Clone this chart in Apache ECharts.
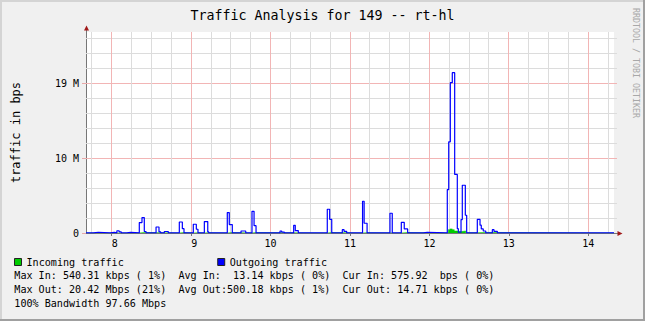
<!DOCTYPE html>
<html><head><meta charset="utf-8">
<script src="https://cdn.jsdelivr.net/npm/echarts@6/dist/echarts.min.js"></script>
<style>html,body{margin:0;padding:0;background:#F0F0F0}#c{width:645px;height:321px}#c text{white-space:pre}</style>
</head><body><div id="c"></div>
<script>
const titleText = 'Traffic Analysis for 149 -- rt-hl';
const yAxisTitle = 'traffic in bps';
const watermark = 'RRDTOOL / TOBI OETIKER';
const hourTicks = [8, 9, 10, 11, 12, 13, 14];
const hourLabels = [' 8', ' 9', '10', '11', '12', '13', '14'];
const quarterTicks = [7.75, 8.25, 8.5, 8.75, 9.25, 9.5, 9.75, 10.25, 10.5, 10.75, 11.25, 11.5, 11.75, 12.25, 12.5, 12.75, 13.25, 13.5, 13.75, 14.25];
const yMajorGrid = [10000000, 20000000];
const yMinorGrid = [2000000, 4000000, 6000000, 8000000, 12000000, 14000000, 16000000, 18000000, 22000000, 24000000, 26000000];
const yTickValues = [0, 10000000, 20000000];
const yTickLabels = ['0', '10 M', '19 M'];
const legendNames = ['Incoming traffic', 'Outgoing traffic'];
const statLines = [
  'Max In: 540.31 kbps ( 1%)  Avg In:  13.14 kbps ( 0%)  Cur In: 575.92  bps ( 0%)',
  'Max Out: 20.42 Mbps (21%)  Avg Out:500.18 kbps ( 1%)  Cur Out: 14.71 kbps ( 0%)',
  '100% Bandwidth 97.66 Mbps'
];

// Outgoing traffic: segment start time (hours) and value (bps)
const outTimes = [7.676, 7.768, 7.831, 7.979, 8.033, 8.065, 8.093, 8.12, 8.189, 8.239,
  8.347, 8.381, 8.41, 8.432, 8.558, 8.595, 8.617, 8.662, 8.712,
  8.851, 8.889, 8.91, 9.027, 9.065, 9.086, 9.166, 9.209, 9.221,
  9.455, 9.48, 9.518, 9.628, 9.687, 9.766, 9.792, 9.817,
  10.119, 10.14, 10.173, 10.291, 10.311, 10.349, 10.714, 10.744, 10.77,
  10.903, 10.925, 10.958, 11.158, 11.178, 11.215, 11.503, 11.532,
  11.646, 11.683, 11.726, 11.923, 11.973,
  12.225, 12.243, 12.263, 12.288, 12.318, 12.351, 12.364, 12.398, 12.414, 12.452, 12.469,
  12.603, 12.637, 12.653, 12.678, 12.709, 12.792, 12.813, 12.855, 14.324];
const outBps = [15000, 100000, 15000, 80000, 15000, 300000, 140000, 15000, 80000, 15000,
  1390000, 2060000, 200000, 15000, 800000, 150000, 15000, 200000, 15000,
  1470000, 580000, 15000, 1170000, 500000, 15000, 1520000, 150000, 15000,
  2730000, 1120000, 15000, 270000, 15000, 2900000, 980000, 15000,
  270000, 120000, 15000, 1030000, 320000, 15000, 3170000, 1830000, 15000,
  450000, 230000, 15000, 4240000, 1300000, 15000, 2640000, 15000,
  1430000, 540000, 15000, 100000, 15000,
  5800000, 12180000, 20080000, 21410000, 7820000, 580000, 100000, 1800000, 6380000, 2370000, 15000,
  1830000, 1050000, 540000, 270000, 15000, 450000, 230000, 15000, 15000];

// Incoming traffic
const inTimes = [7.676, 8.347, 8.41, 8.851, 8.91, 9.027, 9.086, 9.166, 9.221, 9.455, 9.518,
  9.766, 9.817, 10.714, 10.77, 11.158, 11.215, 11.646, 11.726,
  12.225, 12.238, 12.259, 12.288, 12.313, 12.347, 12.401, 12.457, 12.603, 12.709, 14.324];
const inBps = [12000, 60000, 12000, 60000, 12000, 50000, 12000, 50000, 12000, 60000, 12000,
  60000, 12000, 60000, 12000, 50000, 12000, 60000, 12000,
  60000, 450000, 550000, 450000, 270000, 190000, 270000, 50000, 80000, 12000, 12000];

const FONT = 'DejaVu Sans Mono';
const X_MIN = 7.676, X_MAX = 14.324, Y_MAX = 26850000;
const outData = outTimes.map((t, i) => [t, outBps[i]]);
const inData = inTimes.map((t, i) => [t, inBps[i]]);

const minorColor = '#DCDCDC';
const majorColor = '#F2B5B5';

// gridline data: [value, isMajor]
const vGridData = quarterTicks.map(v => [v, 0]).concat(hourTicks.map(v => [v, 1]));
const hGridData = yMinorGrid.map(v => [0, v, 0]).concat(yMajorGrid.map(v => [0, v, 1]));

function crisp(v) { return Math.round(v - 0.5) + 0.5; }

const chart = echarts.init(document.getElementById('c'), null, { renderer: 'svg' });
const graphics = [
  { type: 'rect', shape: { x: 0, y: 0, width: 645, height: 2 }, style: { fill: '#D4D4D4' }, silent: true },
  { type: 'rect', shape: { x: 0, y: 0, width: 2, height: 321 }, style: { fill: '#D4D4D4' }, silent: true },
  { type: 'rect', shape: { x: 643, y: 0, width: 2, height: 321 }, style: { fill: '#A0A0A0' }, silent: true },
  { type: 'rect', shape: { x: 0, y: 319, width: 645, height: 2 }, style: { fill: '#A0A0A0' }, silent: true },
  { type: 'line', shape: { x1: 86.5, y1: 29, x2: 86.5, y2: 32 }, style: { stroke: '#777', lineWidth: 1 }, silent: true },
  { type: 'line', shape: { x1: 82, y1: 233.5, x2: 86, y2: 233.5 }, style: { stroke: '#777', lineWidth: 1 }, silent: true },
  { type: 'line', shape: { x1: 614, y1: 233.5, x2: 618, y2: 233.5 }, style: { stroke: '#777', lineWidth: 1 }, silent: true },
  { type: 'polygon', shape: { points: [[86.5, 25.5], [84, 30.5], [89, 30.5]] }, style: { fill: '#A01818' }, silent: true },
  { type: 'polygon', shape: { points: [[622.5, 233.5], [617.5, 231], [617.5, 236]] }, style: { fill: '#A01818' }, silent: true },
  { type: 'text', x: 635.5, y: 8, rotation: -Math.PI / 2, silent: true,
    style: { text: watermark, fontFamily: FONT, fontSize: 8.3, fill: '#A8A8A8', align: 'left', verticalAlign: 'middle' } }
];
statLines.forEach((s, i) => {
  graphics.push({ type: 'text', x: 14.3, y: 275 + i * 14, silent: true,
    style: { text: s, fontFamily: FONT, fontSize: 10.1, fill: '#000', align: 'left', verticalAlign: 'middle' } });
});

chart.setOption({
  animation: false,
  backgroundColor: '#F0F0F0',
  title: { text: titleText, left: 'center', top: 9, padding: 0,
    textStyle: { fontFamily: FONT, fontSize: 13.3, fontWeight: 'normal', color: '#000' } },
  legend: { left: 14, top: 257, padding: 0, itemWidth: 7, itemHeight: 7, itemGap: 93.5, icon: 'rect',
    data: legendNames,
    itemStyle: { borderColor: '#222', borderWidth: 1 },
    textStyle: { fontFamily: FONT, fontSize: 10.1, color: '#000', padding: [0, 0, 0, 0] } },
  grid: { left: 86, right: 31, top: 32, bottom: 88, show: true, backgroundColor: '#FFFFFF', borderWidth: 0 },
  xAxis: {
    type: 'value', min: X_MIN, max: X_MAX,
    splitLine: { show: false },
    axisLine: { lineStyle: { color: '#777', width: 1 } },
    axisTick: { customValues: hourTicks, length: 3, lineStyle: { color: '#777' } },
    axisLabel: { customValues: hourTicks, formatter: v => hourLabels[hourTicks.indexOf(v)],
      fontFamily: FONT, fontSize: 10, color: '#000', margin: 5 }
  },
  yAxis: {
    type: 'value', min: 0, max: Y_MAX,
    name: yAxisTitle, nameLocation: 'middle', nameGap: 64, nameRotate: 90,
    nameTextStyle: { fontFamily: FONT, fontSize: 12, color: '#000' },
    splitLine: { show: false },
    axisLine: { show: true, lineStyle: { color: '#777', width: 1 } },
    axisTick: { show: true, customValues: yTickValues, length: 4, lineStyle: { color: '#E8A8A8' } },
    axisLabel: { customValues: yTickValues, formatter: v => yTickLabels[yTickValues.indexOf(v)],
      fontFamily: FONT, fontSize: 10, color: '#000', margin: 7 }
  },
  graphic: graphics,
  series: [
    { name: 'hGrid', type: 'custom', data: hGridData, z: 1, silent: true, clip: false,
      encode: { x: 0, y: 1 },
      renderItem: (params, api) => {
        const y = crisp(api.coord([X_MIN, api.value(1)])[1]);
        const x1 = api.coord([X_MIN, 0])[0], x2 = api.coord([X_MAX, 0])[0];
        return { type: 'line', silent: true, shape: { x1: x1, y1: y, x2: x2 + 3, y2: y },
          style: { stroke: api.value(2) ? majorColor : minorColor, lineWidth: 1 } };
      } },
    { name: 'vGrid', type: 'custom', data: vGridData, z: 1, silent: true, clip: false,
      encode: { x: 0 },
      renderItem: (params, api) => {
        const x = crisp(api.coord([api.value(0), 0])[0]);
        const y1 = api.coord([X_MIN, 0])[1], y2 = api.coord([X_MIN, Y_MAX])[1];
        return { type: 'line', silent: true, shape: { x1: x, y1: y1, x2: x, y2: y2 },
          style: { stroke: api.value(1) ? majorColor : minorColor, lineWidth: 1 } };
      } },
    { name: legendNames[0], type: 'line', step: 'end', data: inData, showSymbol: false, z: 2,
      color: '#00CC00', lineStyle: { color: '#00CC00', width: 0.5 }, areaStyle: { color: '#00CC00', opacity: 1 } },
    { name: legendNames[1], type: 'line', step: 'end', data: outData, showSymbol: false, z: 3,
      color: '#0000FF', lineStyle: { color: '#0000FF', width: 1.2 } }
  ]
});
</script></body></html>
